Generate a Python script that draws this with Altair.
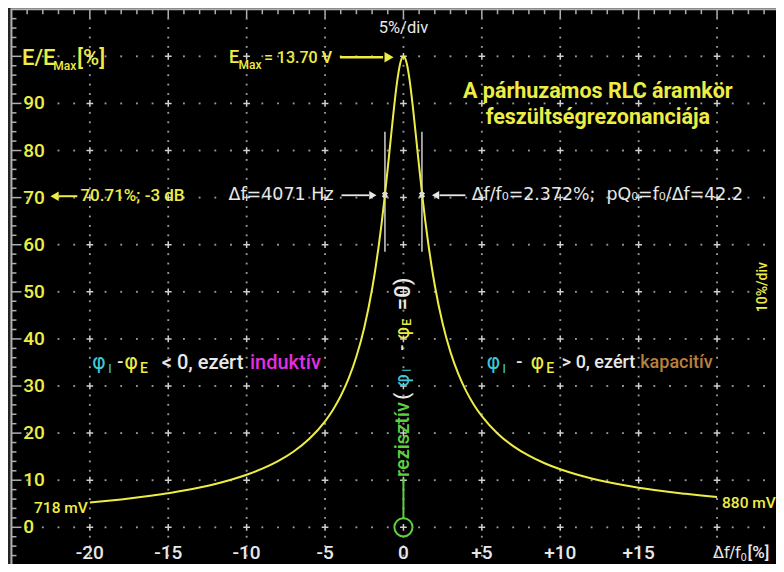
import altair as alt
import pandas as pd

# ---- data ----
dev_pct = [-20, -19, -18, -17, -16, -15, -14, -13, -12, -11, -10, -9, -8, -7, -6, -5,
           -4.5, -4, -3.5, -3, -2.5, -2, -1.8, -1.6, -1.4, -1.2, -1.0, -0.8, -0.6, -0.4, -0.2,
           0, 0.2, 0.4, 0.6, 0.8, 1.0, 1.2, 1.4, 1.6, 1.8, 2, 2.5, 3, 3.5, 4, 4.5, 5,
           6, 7, 8, 9, 10, 11, 12, 13, 14, 15, 16, 17, 18, 19, 20]
rel_pct = [5.26, 5.57, 5.92, 6.31, 6.75, 7.22, 7.80, 8.45, 9.20, 10.09, 11.15, 12.45, 14.05, 16.10, 18.80, 22.50,
           24.91, 27.87, 31.55, 36.25, 42.38, 50.59, 54.63, 59.20, 64.33, 70.04, 76.26, 82.77, 89.16, 94.73, 98.60,
           100.0, 98.61, 94.77, 89.27, 82.98, 76.58, 70.47, 64.86, 59.82, 55.32, 51.34, 43.26, 37.20, 32.56, 28.91, 25.98, 23.59,
           19.92, 17.24, 15.20, 13.60, 12.32, 11.26, 10.38, 9.63, 8.98, 8.42, 7.93, 7.49, 7.11, 6.76, 6.45]
y_ticks = [0, 10, 20, 30, 40, 50, 60, 70, 80, 90]
x_ticks = [-20, -15, -10, -5, 0, 5, 10, 15]
x_tick_labels = ["-20", "-15", "-10", "-5", "0", "+5", "+10", "+15"]
half_power_dev = [-1.18, 1.18]
end_labels = ["718 mV", "880 mV"]

# ---- styling ----
YEL = "#eded45"
WHT = "#e8e8e8"
CYAN = "#3ec8d8"
MAG = "#e030e0"
BROWN = "#b8803c"
GREEN = "#5ed040"
GRID = "#999999"
FY = "Roboto"
FW = "DejaVu Sans"
NB = "\u00a0"
MED = 500

XS = alt.Scale(domain=[-25.22, 23.76], nice=False, zero=False)
YS = alt.Scale(domain=[-7.79, 110.26], nice=False, zero=False)


def XD(v):
    return alt.XDatum(v, type="quantitative", scale=XS, axis=None)


def YD(v):
    return alt.YDatum(v, type="quantitative", scale=YS, axis=None)


def XF(f):
    return alt.X(f, type="quantitative", scale=XS, axis=None)


def YF(f):
    return alt.Y(f, type="quantitative", scale=YS, axis=None)


one = pd.DataFrame({"k": [0]})


def text(x, y, s, color, size, font=FY, align="left", weight=MED, angle=0, baseline="middle"):
    return alt.Chart(one).mark_text(text=s, color=color, fontSize=size, font=font, align=align,
                                    fontWeight=weight, angle=angle, baseline=baseline).encode(x=XD(x), y=YD(y))


def seg(x1, y1, x2, y2, color, w=2):
    return alt.Chart(one).mark_rule(color=color, strokeWidth=w).encode(
        x=XD(x1), y=YD(y1), x2=alt.X2Datum(x2), y2=alt.Y2Datum(y2))


def head(x, y, shape, color, size=90):
    return alt.Chart(one).mark_point(shape=shape, filled=True, opacity=1, color=color, size=size,
                                     strokeWidth=0).encode(x=XD(x), y=YD(y))


layers = []

# screen frame
layers.append(alt.Chart(one).mark_rect(fill="black", stroke="#b0b0b0", strokeWidth=2).encode(
    x=XD(-25), x2=alt.X2Datum(25), y=YD(-10), y2=alt.Y2Datum(110)))

# frame ticks
top_minor = pd.DataFrame({"d": [d for d in range(-24, 25) if d % 5 != 0]})
top_major = pd.DataFrame({"d": [d for d in range(-20, 25, 5)]})
layers.append(alt.Chart(top_minor).mark_rule(color="#b0b0b0", strokeWidth=1.5, y2Offset=5).encode(
    x=XF("d"), y=YD(110), y2=alt.Y2Datum(110)))
layers.append(alt.Chart(top_major).mark_rule(color="#b0b0b0", strokeWidth=1.5, y2Offset=9).encode(
    x=XF("d"), y=YD(110), y2=alt.Y2Datum(110)))
left_minor = pd.DataFrame({"v": [v for v in range(-8, 110, 2) if v % 10 != 0]})
left_major = pd.DataFrame({"v": [v for v in range(-10, 110, 10)]})
layers.append(alt.Chart(left_minor).mark_rule(color="#b0b0b0", strokeWidth=1.5, x2Offset=5).encode(
    y=YF("v"), x=XD(-25), x2=alt.X2Datum(-25)))
layers.append(alt.Chart(left_major).mark_rule(color="#b0b0b0", strokeWidth=1.5, x2Offset=10).encode(
    y=YF("v"), x=XD(-25), x2=alt.X2Datum(-25)))

# graticule dots
vdots = pd.DataFrame([(d, v) for d in range(-20, 25, 5) for v in range(-8, 110, 2) if v % 10 != 0],
                     columns=["d", "v"])
hdots = pd.DataFrame([(d, v) for v in range(0, 110, 10) for d in range(-24, 25) if d % 5 != 0],
                     columns=["d", "v"])
crosses = pd.DataFrame([(d, v) for d in range(-20, 25, 5) for v in range(0, 110, 10)], columns=["d", "v"])
for df in (vdots, hdots):
    layers.append(alt.Chart(df).mark_square(size=3.5, color=GRID, opacity=1).encode(x=XF("d"), y=YF("v")))
layers.append(alt.Chart(crosses).mark_point(shape="M-1,0L1,0M0,-1L0,1", size=45, color="#d0d0d0",
                                            strokeWidth=1.5, opacity=1).encode(x=XF("d"), y=YF("v")))

# half-power markers
hp = pd.DataFrame({"d": half_power_dev})
layers.append(alt.Chart(hp).mark_rule(color="#cfcfcf", strokeWidth=1.5).encode(
    x=XF("d"), y=YD(58.5), y2=alt.Y2Datum(84)))

# curve
curve = pd.DataFrame({"d": dev_pct, "v": rel_pct})
layers.append(alt.Chart(curve).mark_line(color=YEL, strokeWidth=2, interpolate="monotone").encode(
    x=XF("d"), y=YF("v")))

layers.append(alt.Chart(hp).mark_point(shape="cross", size=40, color="#dddddd", angle=45, filled=True,
                                       opacity=1).encode(x=XF("d"), y=YD(70.6)))

# axis labels
ylab = pd.DataFrame({"v": y_ticks, "t": [str(v) for v in y_ticks]})
layers.append(alt.Chart(ylab).mark_text(color=YEL, fontSize=19, font=FY, fontWeight=MED, align="left",
                                        baseline="middle").encode(x=XD(-24.25), y=YF("v"), text="t:N"))
xlab = pd.DataFrame({"d": x_ticks, "t": x_tick_labels})
layers.append(alt.Chart(xlab).mark_text(color=WHT, fontSize=19, font=FY, fontWeight=MED, align="center",
                                        baseline="middle").encode(x=XF("d"), y=YD(-5.5), text="t:N"))

# y-axis title E/E_Max[%]
layers.append(text(-24.33, 99.7, "E/E", YEL, 22))
layers.append(text(-22.33, 97.9, "Max", YEL, 12))
layers.append(text(-20.82, 99.7, "[%]", YEL, 22))
# x-axis title
layers.append(text(19.74, -5.5, "Δf/f", WHT, 16, font=FW, weight="normal"))
layers.append(text(21.5, -6.6, "0", WHT, 10, font=FW, weight="normal"))
layers.append(text(21.95, -5.5, "[%]", WHT, 17))

# top annotations
layers.append(text(0, 106.0, "5%/div", WHT, 16.5, align="center", weight="normal"))
layers.append(text(-11.13, 99.6, "E", YEL, 18))
layers.append(text(-10.52, 98.1, "Max", YEL, 12))
layers.append(text(-8.9, 99.6, "= 13.70 V", YEL, 16))
layers.append(seg(-4.05, 99.8, -1.3, 99.8, YEL, 2.5))
layers.append(head(-0.92, 99.8, "triangle-right", YEL, 110))

# title
layers.append(text(12.4, 92.4, "A párhuzamos RLC áramkör", YEL, 21.5, weight="bold", align="center"))
layers.append(text(12.4, 87.0, "feszültségrezonanciája", YEL, 21.5, weight="bold", align="center"))

# -3 dB row
layers.append(head(-22.25, 70.3, "triangle-left", YEL, 90))
layers.append(seg(-22.0, 70.3, -20.8, 70.3, YEL, 2))
layers.append(text(-20.6, 70.3, "70.71%; -3 dB", YEL, 17))
layers.append(text(-4.45, 70.5, "Δf=4071 Hz", WHT, 17.5, font=FW, align="right", weight="normal"))
layers.append(seg(-3.95, 70.5, -2.2, 70.5, WHT, 1.8))
layers.append(head(-1.95, 70.5, "triangle-right", WHT, 70))
layers.append(head(2.05, 70.5, "triangle-left", WHT, 70))
layers.append(seg(2.3, 70.5, 3.95, 70.5, WHT, 1.8))
layers.append(text(4.35, 70.5, "Δf/f₀=2.372%;" + NB + NB + "pQ₀=f₀/Δf=42.2", WHT, 17.4, font=FW,
                   weight="normal"))

# left phase label
layers.append(text(-19.87, 34.9, "φ", CYAN, 21, font=FW, weight="normal"))
layers.append(text(-18.85, 33.6, "I", CYAN, 13, font=FW, weight="normal"))
layers.append(text(-18.25, 34.9, "-", WHT, 18))
layers.append(text(-17.8, 34.9, "φ", YEL, 21, font=FW, weight="normal"))
layers.append(text(-16.8, 33.6, "E", YEL, 14))
layers.append(text(-15.41, 34.9, "< 0, ezért", WHT, 20))
layers.append(text(-9.79, 34.9, "induktív", MAG, 20))

# right phase label
layers.append(text(5.3, 34.9, "φ", CYAN, 21, font=FW, weight="normal"))
layers.append(text(6.3, 33.6, "I", CYAN, 13, font=FW, weight="normal"))
layers.append(text(7.2, 34.9, "-", WHT, 18))
layers.append(text(8.1, 34.9, "φ", YEL, 21, font=FW, weight="normal"))
layers.append(text(9.1, 33.6, "E", YEL, 14))
layers.append(text(10.1, 34.9, "> 0, ezért", WHT, 18))
layers.append(text(15.1, 34.9, "kapacitív", BROWN, 18))

# vertical resistive label
layers.append(text(0, 10.7, "rezisztív", GREEN, 20, angle=270))
layers.append(text(0, 27.1, "(", WHT, 20, angle=270))
layers.append(text(0, 29.8, "φ", CYAN, 20, angle=270, font=FW, weight="normal"))
layers.append(text(0.25, 33.0, "I", CYAN, 12, angle=270, font=FW, weight="normal"))
layers.append(text(0, 37.5, "-", WHT, 18, angle=270))
layers.append(text(0, 39.8, "φ", YEL, 20, angle=270, font=FW, weight="normal"))
layers.append(text(0.25, 42.8, "E", YEL, 12, angle=270))
layers.append(text(0, 46.1, "=0)", WHT, 22, angle=270))
layers.append(seg(0, 1.9, 0, 10.4, GREEN, 2))
layers.append(alt.Chart(one).mark_point(shape="circle", size=330, color=GREEN, strokeWidth=2, opacity=1,
                                        filled=False).encode(x=XD(0), y=YD(0)))

# right side scale note and end values
layers.append(text(22.95, 51.0, "10%/div", YEL, 14, angle=270, align="center"))
layers.append(text(-20.13, 4.1, end_labels[0], YEL, 15.5, align="right"))
layers.append(text(20.32, 5.2, end_labels[1], YEL, 15.5))

chart = alt.layer(*layers).properties(
    width=768, height=556, autosize=alt.AutoSizeParams(type="none"), padding=0
).configure(background="#232323").configure_view(stroke=None)

chart.save("out.html", embed_options={"renderer": "svg", "actions": False})
